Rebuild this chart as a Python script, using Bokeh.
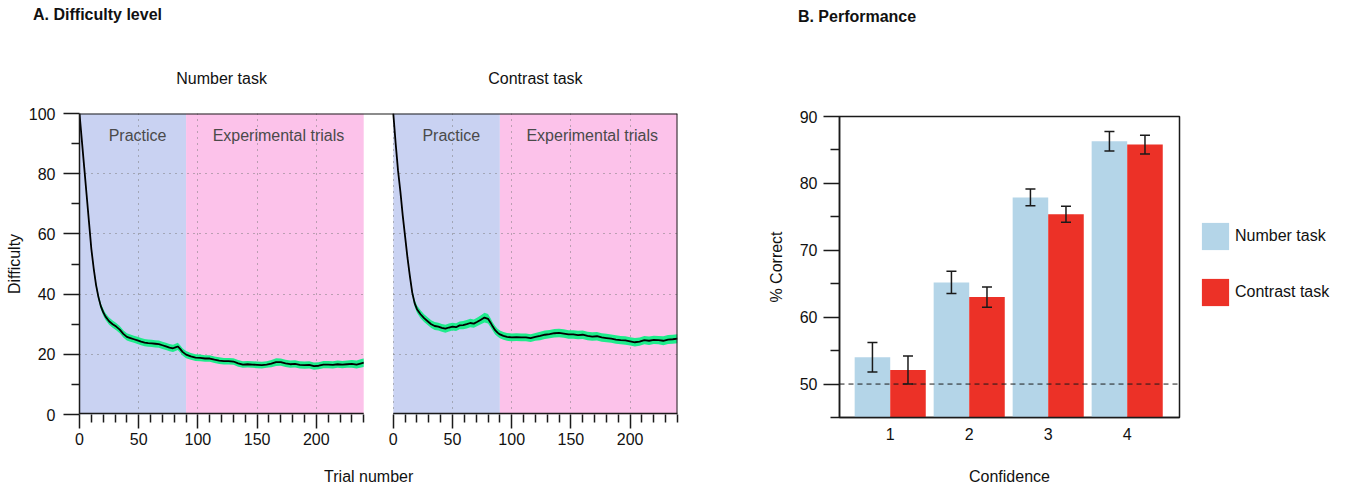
from bokeh.plotting import figure
from bokeh.layouts import row
from bokeh.models import (ColumnDataSource, FixedTicker, Span, Grid, Range1d, LinearAxis,
                          BoxAnnotation, Whisker, TeeHead, Legend, LegendItem)
from bokeh.core.properties import value
from bokeh.embed import file_html
from bokeh.resources import INLINE

FONT = "Liberation Sans"
INK = "#1a1a1a"

# ---------------- Panel A data ----------------
number_trials = [0, 2, 4, 6, 8, 10, 12, 14, 16, 18, 20, 22, 25, 28, 31, 34, 37, 40, 43, 46, 49,
                 52, 55, 58, 61, 64, 67, 70, 73, 76, 79, 81, 83, 85, 87, 90, 94, 98, 102, 106,
                 110, 114, 118, 122, 126, 130, 134, 138, 142, 146, 150, 154, 158, 162, 166, 170,
                 174, 178, 182, 186, 190, 194, 198, 202, 206, 210, 214, 218, 222, 226, 230, 234,
                 238, 240]
number_difficulty = [100, 91, 82, 73, 64, 55, 48.5, 43, 39, 36, 34, 32.5, 31, 30, 29.2, 28.2, 26.8,
                     25.8, 25.4, 25.0, 24.6, 24.2, 23.9, 23.7, 23.6, 23.5, 23.4, 23.0, 22.6, 22.2,
                     22.0, 22.3, 22.6, 21.8, 20.8, 19.9, 19.3, 18.9, 18.8, 18.6, 18.6, 18.2, 17.9,
                     17.7, 17.7, 17.6, 17.0, 16.6, 16.7, 16.6, 16.5, 16.4, 16.6, 16.9, 17.4, 17.4,
                     17.0, 16.7, 16.8, 16.5, 16.4, 16.5, 16.1, 16.2, 16.6, 16.6, 16.5, 16.7, 16.6,
                     16.7, 16.8, 16.6, 17.0, 17.2]
number_se = [0.2, 0.3, 0.4, 0.5, 0.6, 0.7, 0.8, 0.9, 1.0, 1.0, 1.1, 1.1, 1.2, 1.2, 1.2, 1.2, 1.2,
             1.2, 1.2, 1.2, 1.2, 1.2, 1.2, 1.2, 1.2, 1.2, 1.2, 1.2, 1.2, 1.2, 1.2, 1.2, 1.2, 1.2,
             1.2, 1.2, 1.1, 1.1, 1.1, 1.1, 1.1, 1.1, 1.1, 1.1, 1.1, 1.1, 1.1, 1.1, 1.1, 1.1, 1.1,
             1.1, 1.1, 1.2, 1.3, 1.2, 1.2, 1.2, 1.2, 1.2, 1.2, 1.2, 1.2, 1.2, 1.2, 1.2, 1.2, 1.2,
             1.2, 1.2, 1.3, 1.3, 1.4, 1.4]

contrast_trials = [0, 2, 4, 6, 8, 10, 12, 14, 16, 18, 20, 23, 26, 29, 32, 35, 38, 41, 44, 47, 50,
                   53, 56, 59, 62, 65, 68, 71, 74, 77, 80, 82, 84, 86, 88, 90, 93, 96, 100, 104,
                   108, 112, 116, 120, 124, 128, 132, 136, 140, 144, 148, 152, 156, 160, 164, 168,
                   172, 176, 180, 184, 188, 192, 196, 200, 204, 208, 212, 216, 220, 224, 228, 232,
                   236, 240]
contrast_difficulty = [100, 90, 81, 74, 66, 59, 52, 46, 40.5, 37, 35, 33.3, 32, 31, 30, 29.4, 29.2,
                       28.8, 28.5, 28.9, 29.2, 29.0, 29.6, 29.7, 30.0, 30.4, 30.2, 30.8, 31.5, 32.2,
                       31.8, 30.6, 29.2, 28.0, 27.2, 26.6, 26.1, 25.8, 25.6, 25.7, 25.6, 25.6, 25.4,
                       25.8, 26.1, 26.5, 26.7, 27.0, 27.1, 26.9, 26.6, 26.6, 26.4, 26.5, 26.1, 25.9,
                       26.0, 25.6, 25.4, 25.2, 24.9, 24.7, 24.6, 24.3, 24.0, 24.2, 24.7, 24.5, 24.8,
                       24.7, 24.5, 24.9, 25.0, 25.2]
contrast_se = [0.2, 0.3, 0.4, 0.5, 0.6, 0.7, 0.8, 0.9, 1.0, 1.1, 1.2, 1.3, 1.3, 1.3, 1.3, 1.3, 1.3,
               1.3, 1.3, 1.3, 1.3, 1.3, 1.3, 1.4, 1.4, 1.4, 1.4, 1.4, 1.5, 1.6, 1.6, 1.5, 1.4, 1.4,
               1.3, 1.3, 1.3, 1.3, 1.3, 1.3, 1.3, 1.3, 1.3, 1.3, 1.4, 1.4, 1.4, 1.4, 1.4, 1.4, 1.4,
               1.4, 1.4, 1.4, 1.4, 1.4, 1.4, 1.4, 1.4, 1.4, 1.4, 1.4, 1.4, 1.4, 1.4, 1.4, 1.4, 1.4,
               1.4, 1.4, 1.5, 1.5, 1.5, 1.5]

task_names = ["Number task", "Contrast task"]
phase_names = ["Practice", "Experimental trials"]
phase_start = [0, 90]
phase_end = [90, 240]
phase_colors = ["#c9d2f2", "#fcc2ea"]

trial_ticks = [0, 50, 100, 150, 200]
trial_minor = [t for t in range(10, 241, 10) if t % 50]
difficulty_ticks = [0, 20, 40, 60, 80, 100]
difficulty_minor = [10, 30, 50, 70, 90]

# ---------------- Panel B data ----------------
confidence = [1, 2, 3, 4]
number_correct = [54.0, 65.2, 77.9, 86.3]
number_correct_se = [2.2, 1.65, 1.25, 1.45]
contrast_correct = [52.1, 63.0, 75.4, 85.8]
contrast_correct_se = [2.1, 1.5, 1.2, 1.4]
correct_ticks = [50, 60, 70, 80, 90]
correct_minor = [45, 55, 65, 75, 85]
task_colors = ["#b4d5e8", "#ec3127"]

# ---------------- geometry ----------------
N = 240          # trials per panel
GAP = 25         # gap between the two difficulty panels (trial units)
PX = 284 / N     # pixels per trial
A_FRAME_W = round((2 * N + GAP) * PX)
FRAME_H = 301
B_X0, B_X1 = 0.358, 4.662
B_PX = 340 / (B_X1 - B_X0)


def style_axis(ax, major_out=15, minor_out=8, standoff=4):
    ax.axis_line_color = INK
    ax.axis_line_width = 1.5
    ax.major_tick_line_color = INK
    ax.major_tick_line_width = 1.5
    ax.minor_tick_line_color = INK
    ax.minor_tick_line_width = 1.5
    ax.major_tick_in = 0
    ax.minor_tick_in = 0
    ax.major_tick_out = major_out
    ax.minor_tick_out = minor_out
    ax.major_label_standoff = standoff
    ax.major_label_text_font = FONT
    ax.major_label_text_font_size = "16px"
    ax.major_label_text_color = "#111111"
    ax.axis_label_text_font = FONT
    ax.axis_label_text_font_size = "16px"
    ax.axis_label_text_font_style = "normal"
    ax.axis_label_text_color = "#111111"


def text_axis(texts, positions, standoff, bold=False):
    """An axis without line or ticks whose tick labels carry text outside the frame."""
    pos = [round(p, 2) for p in positions]
    ax = LinearAxis(ticker=FixedTicker(ticks=pos))
    style_axis(ax, major_out=0, minor_out=0, standoff=standoff)
    ax.axis_line_color = None
    ax.major_tick_line_color = None
    ax.minor_tick_line_color = None
    ax.major_label_overrides = dict(zip(pos, texts))
    ax.major_label_text_font_style = "bold" if bold else "normal"
    return ax


def style_grid(g):
    g.grid_line_color = "#7a7a7a"
    g.grid_line_dash = "1 5"
    g.grid_line_width = 1


def no_frame_align(p):
    try:
        p.frame_align = False
    except Exception:
        pass


# ================= Panel A: both difficulty panels in one frame =================
pA = figure(frame_width=A_FRAME_W, frame_height=FRAME_H,
            x_range=(0, 2 * N + GAP), y_range=(0, 100),
            min_border_left=79, min_border_right=23, min_border_top=113, min_border_bottom=74,
            output_backend="svg", toolbar_location=None)
pA.extra_x_ranges = {"contrast": Range1d(start=-(N + GAP), end=N)}
no_frame_align(pA)
pA.outline_line_color = None
pA.background_fill_color = "white"
pA.border_fill_color = "white"

offset = N + GAP
for rng, trials, diff, se in (("default", number_trials, number_difficulty, number_se),
                              ("contrast", contrast_trials, contrast_difficulty, contrast_se)):
    src = ColumnDataSource(dict(
        x=trials, y=diff,
        lo=[d - s for d, s in zip(diff, se)],
        hi=[d + s for d, s in zip(diff, se)]))
    pA.quad(left=phase_start, right=phase_end, bottom=0, top=100, x_range_name=rng,
            fill_color=phase_colors, line_color=None, level="image")
    pA.text(x=[49, 168], y=[92.6, 92.6], text=phase_names, x_range_name=rng,
            text_align="center", text_baseline="middle", text_font=value(FONT),
            text_font_size="16px", text_color="#4a4a4a")
    pA.varea(x="x", y1="lo", y2="hi", source=src, x_range_name=rng, fill_color="#1eec8c")
    pA.line(x="x", y="y", source=src, x_range_name=rng, line_color="#000000", line_width=1.8)

# frame edges: top line across both panels, right edge of the second panel,
# and a baseline under each panel (none under the gap)
pA.add_layout(Span(location=100, dimension="width", line_color=INK, line_width=2))
pA.add_layout(Span(location=2 * N + GAP, dimension="height", line_color=INK, line_width=2))
for x0 in (0, offset):
    pA.add_layout(BoxAnnotation(left=x0, right=x0 + N, bottom=0, top=0.55,
                                fill_color=INK, fill_alpha=1, line_color=None,
                                level="overlay"))

pA.xaxis.ticker = FixedTicker(ticks=trial_ticks + [t + offset for t in trial_ticks],
                              minor_ticks=trial_minor + [t + offset for t in trial_minor])
pA.xaxis.major_label_overrides = {t + offset: str(t) for t in trial_ticks}
pA.xaxis.bounds = (0, 2 * N + GAP)
style_axis(pA.xaxis[0], major_out=14, minor_out=8, standoff=4)
pA.xaxis.axis_line_color = None

pA.yaxis.ticker = FixedTicker(ticks=difficulty_ticks, minor_ticks=difficulty_minor)
pA.yaxis.axis_label = "Difficulty"
style_axis(pA.yaxis[0], major_out=16, minor_out=8, standoff=8)
pA.yaxis.axis_label_standoff = 3

pA.xgrid.ticker = FixedTicker(ticks=trial_ticks + [t + offset for t in trial_ticks])
pA.ygrid.ticker = FixedTicker(ticks=difficulty_ticks[1:-1])
pA.ygrid.cross_bounds = (0, N)
style_grid(pA.xgrid[0])
style_grid(pA.ygrid[0])
g2 = Grid(dimension=1, ticker=FixedTicker(ticks=difficulty_ticks[1:-1]),
          cross_bounds=(offset, offset + N))
style_grid(g2)
pA.add_layout(g2, "center")

# panel sub-titles just above the frame, then the panel letter title further out
pA.add_layout(text_axis(task_names, [N / 2, offset + N / 2], standoff=27), "above")
pA.add_layout(text_axis(["A. Difficulty level"], [(97 - 79) / PX], standoff=44, bold=True),
              "above")
pA.add_layout(text_axis(["Trial number"], [(368 - 79) / PX], standoff=20), "below")

# ================= Panel B: performance =================
pB = figure(frame_width=340, frame_height=FRAME_H, x_range=(B_X0, B_X1), y_range=(45, 90),
            min_border_left=139, min_border_right=164, min_border_top=116, min_border_bottom=71,
            output_backend="svg", toolbar_location=None)
no_frame_align(pB)
pB.outline_line_color = INK
pB.outline_line_width = 1.5
pB.background_fill_color = "white"
pB.border_fill_color = "white"
pB.xgrid.visible = False
pB.ygrid.visible = False

BAR_W = 0.45
src_n = ColumnDataSource(dict(
    x=[c - BAR_W / 2 for c in confidence], top=number_correct,
    lo=[v - s for v, s in zip(number_correct, number_correct_se)],
    hi=[v + s for v, s in zip(number_correct, number_correct_se)]))
src_c = ColumnDataSource(dict(
    x=[c + BAR_W / 2 for c in confidence], top=contrast_correct,
    lo=[v - s for v, s in zip(contrast_correct, contrast_correct_se)],
    hi=[v + s for v, s in zip(contrast_correct, contrast_correct_se)]))
rn = pB.vbar(x="x", top="top", bottom=45, width=BAR_W, source=src_n,
             fill_color=task_colors[0], line_color=None)
rc = pB.vbar(x="x", top="top", bottom=45, width=BAR_W, source=src_c,
             fill_color=task_colors[1], line_color=None)
for s in (src_n, src_c):
    pB.add_layout(Whisker(base="x", upper="hi", lower="lo", source=s, level="overlay",
                          line_color=INK, line_width=1.5,
                          upper_head=TeeHead(size=10, line_color=INK, line_width=1.5),
                          lower_head=TeeHead(size=10, line_color=INK, line_width=1.5)))
pB.add_layout(Span(location=50, dimension="width", line_color=INK, line_width=1,
                   line_dash="5 4"))

pB.xaxis.ticker = FixedTicker(ticks=confidence)
pB.xaxis.axis_label = "Confidence"
style_axis(pB.xaxis[0], major_out=0, minor_out=0, standoff=10)
pB.xaxis.major_tick_line_color = None
pB.xaxis.minor_tick_line_color = None
pB.xaxis.axis_label_standoff = 25
pB.yaxis.ticker = FixedTicker(ticks=correct_ticks, minor_ticks=correct_minor)
pB.yaxis.axis_label = "% Correct"
style_axis(pB.yaxis[0], major_out=16, minor_out=9, standoff=6)
pB.yaxis.axis_label_standoff = 12

legend = Legend(items=[LegendItem(label=task_names[0], renderers=[rn]),
                       LegendItem(label=task_names[1], renderers=[rc])],
                location=(19, 108), orientation="vertical",
                glyph_width=34, glyph_height=34, label_height=34, spacing=22,
                label_standoff=3, padding=0, margin=0,
                border_line_color=None, background_fill_alpha=0,
                label_text_font=FONT, label_text_font_size="16px",
                label_text_color="#111111")
pB.add_layout(legend, "right")
pB.add_layout(text_axis(["B. Performance"], [B_X0 + (856.5 - 839) / B_PX], standoff=92,
                        bold=True), "above")

layout = row(pA, pB)
open("out.html", "w").write(file_html(layout, INLINE))
